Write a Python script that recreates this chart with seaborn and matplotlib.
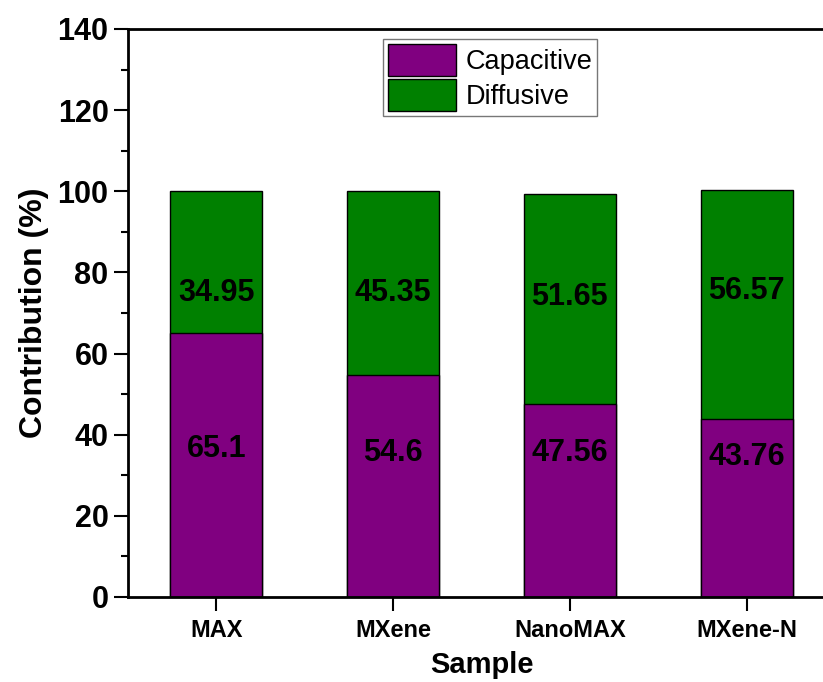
import matplotlib
matplotlib.use("Agg")
import matplotlib.pyplot as plt
import seaborn as sns
import pandas as pd
from matplotlib.patches import Patch
from matplotlib.ticker import MultipleLocator

samples = ["MAX", "MXene", "NanoMAX", "MXene-N"]
capacitive = [65.1, 54.6, 47.56, 43.76]
diffusive = [34.95, 45.35, 51.65, 56.57]
cap_labels = ["65.1", "54.6", "47.56", "43.76"]
diff_labels = ["34.95", "45.35", "51.65", "56.57"]

# label heights (layout)
cap_label_y = [36.5, 35.5, 35.5, 34.5]
diff_label_y = [75, 75, 74, 75.5]

df = pd.DataFrame({"Sample": samples, "Capacitive": capacitive, "Diffusive": diffusive})
df["Total"] = df["Capacitive"] + df["Diffusive"]

sns.set_theme(style="ticks")
plt.rcParams["font.family"] = ["Liberation Sans", "DejaVu Sans"]
plt.rcParams.update({"text.color": "black", "axes.labelcolor": "black",
                     "xtick.color": "black", "ytick.color": "black"})

PURPLE = "#800080"
GREEN = "#008000"

fig = plt.figure(figsize=(8.23, 6.82), dpi=100)
ax = fig.add_axes([128 / 823, 85 / 682, 707 / 823, 568 / 682])

sns.barplot(data=df, x="Sample", y="Total", color=GREEN, width=0.52,
            edgecolor="black", linewidth=1.0, saturation=1, ax=ax)
sns.barplot(data=df, x="Sample", y="Capacitive", color=PURPLE, width=0.52,
            edgecolor="black", linewidth=1.0, saturation=1, ax=ax)

for i in range(len(samples)):
    ax.text(i, cap_label_y[i], cap_labels[i], ha="center", va="center",
            fontsize=22, fontweight="bold", color="black")
    ax.text(i, diff_label_y[i], diff_labels[i], ha="center", va="center",
            fontsize=22, fontweight="bold", color="black")

ax.set_xlim(-0.5, 3.5)
ax.set_ylim(0, 140)
ax.yaxis.set_major_locator(MultipleLocator(20))
ax.yaxis.set_minor_locator(MultipleLocator(10))

ax.set_xlabel("Sample", fontsize=21, fontweight="bold", labelpad=6)
ax.set_ylabel("Contribution (%)", fontsize=23, fontweight="bold", labelpad=6)

ax.tick_params(axis="y", which="major", direction="out", length=10, width=1.5,
               labelsize=22, pad=4)
ax.tick_params(axis="y", which="minor", direction="out", length=5, width=1.5)
ax.tick_params(axis="x", which="major", direction="out", length=10, width=1.5,
               labelsize=17, pad=6)
for lab in ax.get_xticklabels() + ax.get_yticklabels():
    lab.set_fontweight("bold")

for side in ["left", "bottom", "top"]:
    ax.spines[side].set_linewidth(2)
    ax.spines[side].set_color("black")
ax.spines["right"].set_visible(False)

handles = [Patch(facecolor=PURPLE, edgecolor="black", linewidth=1.0, label="Capacitive"),
           Patch(facecolor=GREEN, edgecolor="black", linewidth=1.0, label="Diffusive")]
leg = ax.legend(handles=handles, loc="upper center", bbox_to_anchor=(0.5125, 0.983),
                fontsize=19.5, frameon=True, fancybox=False, handlelength=2.5,
                handleheight=1.45, labelspacing=0.12, borderpad=0.18,
                handletextpad=0.35, borderaxespad=0)
leg.get_frame().set_edgecolor("#555555")
leg.get_frame().set_linewidth(1.0)

fig.savefig("out.png", dpi=100)
